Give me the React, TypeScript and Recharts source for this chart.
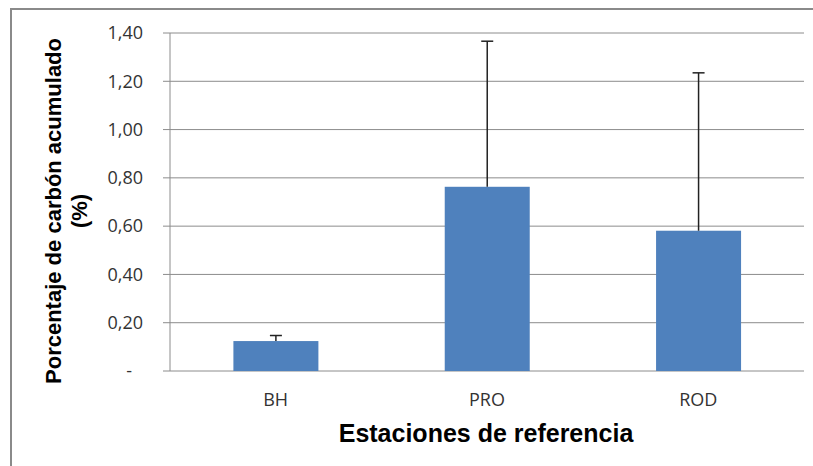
import React from "react";
import {
  BarChart,
  Bar,
  XAxis,
  YAxis,
  CartesianGrid,
} from "recharts";

const stations = ["BH", "PRO", "ROD"];
const carbonMean = [0.124, 0.763, 0.581];
const carbonError = [0.023, 0.603, 0.654];
const yTicks = [0, 0.2, 0.4, 0.6, 0.8, 1.0, 1.2, 1.4];

const data = stations.map((name, i) => ({
  name,
  value: carbonMean[i],
  error: carbonError[i],
}));

const GRID = "#8c8c8c";
const TICK_FONT = "'Open Sans', sans-serif";
const TITLE_FONT = "'Liberation Sans', Arial, sans-serif";

const formatTick = (v: number) =>
  v === 0 ? "-" : v.toFixed(2).replace(".", ",");

const YTick = (props: any) => {
  const { x, y, payload } = props;
  const isZero = payload.value === 0;
  return (
    <text
      x={isZero ? x - 11 : x}
      y={y}
      dy="0.35em"
      textAnchor="end"
      fill="#333"
      fontSize={18}
      fontFamily={TICK_FONT}
    >
      {formatTick(payload.value)}
    </text>
  );
};

// bar with a one-sided (upper) error bar, scaled from the bar's own geometry
const BarWithError = (props: any) => {
  const { x, y, width, height, fill, payload } = props;
  const perUnit = payload.value ? height / payload.value : 0;
  const top = y - payload.error * perUnit;
  const cx = x + width / 2;
  return (
    <g>
      <rect x={x} y={y} width={width} height={height} fill={fill} />
      <line x1={cx} y1={y} x2={cx} y2={top} stroke="#222" strokeWidth={1.5} />
      <line
        x1={cx - 6}
        y1={top}
        x2={cx + 6}
        y2={top}
        stroke="#222"
        strokeWidth={1.5}
      />
    </g>
  );
};

const YTitle = () => (
  <g
    fontFamily={TITLE_FONT}
    fontWeight="bold"
    fontSize={22}
    fill="#000"
    textAnchor="middle"
  >
    <text x={61} y={211} transform="rotate(-90, 61, 211)">
      Porcentaje de carbón acumulado
    </text>
    <text x={87} y={211} transform="rotate(-90, 87, 211)">
      (%)
    </text>
  </g>
);

const XTitle = () => (
  <text
    x={486}
    y={442}
    textAnchor="middle"
    fontFamily={TITLE_FONT}
    fontWeight="bold"
    fontSize={25}
    fill="#000"
  >
    Estaciones de referencia
  </text>
);

const XTick = (props: any) => {
  const { x, y, payload } = props;
  return (
    <text
      x={x}
      y={y}
      dy="0.71em"
      textAnchor="middle"
      fill="#333"
      fontSize={18}
      fontFamily={TICK_FONT}
    >
      {payload.value}
    </text>
  );
};

const App = () => {
  return (
    <div
      style={{
        position: "absolute",
        left: 0,
        top: 0,
        width: 813,
        height: 466,
        overflow: "hidden",
        background: "#fff",
      }}
    >
      <div
        style={{
          position: "absolute",
          left: 10,
          top: 8,
          width: 900,
          height: 600,
          border: "2px solid #8a8a8a",
        }}
      />
      <div style={{ position: "absolute", left: 0, top: 0 }}>
        <BarChart
          width={813}
          height={466}
          data={data}
          margin={{ top: 33, right: 9, bottom: 0, left: 0 }}
          barCategoryGap="30%"
        >
          <CartesianGrid
            xAxisId="cat"
            vertical={false}
            stroke={GRID}
            strokeWidth={1}
          />
          <XAxis
            xAxisId="edges"
            type="number"
            domain={[0, 3]}
            allowDataOverflow
            ticks={[0, 1, 2, 3]}
            tickFormatter={() => ""}
            tickSize={6}
            tickLine={{ stroke: GRID }}
            axisLine={{ stroke: GRID }}
            height={0}
          />
          <XAxis
            xAxisId="cat"
            dataKey="name"
            axisLine={false}
            tickLine={false}
            tickSize={6}
            tickMargin={16}
            height={95}
            tick={<XTick />}
            label={{ content: () => <XTitle /> }}
          />
          <YAxis
            width={170}
            domain={[0, 1.4]}
            ticks={yTicks}
            interval={0}
            tickSize={7}
            tickMargin={20}
            tick={<YTick />}
            tickLine={{ stroke: GRID }}
            axisLine={{ stroke: GRID }}
            label={{ content: () => <YTitle /> }}
          />
          <Bar
            xAxisId="cat"
            dataKey="value"
            fill="#4f81bd"
            shape={<BarWithError />}
            isAnimationActive={false}
          />
        </BarChart>
      </div>
    </div>
  );
};

export default App;
